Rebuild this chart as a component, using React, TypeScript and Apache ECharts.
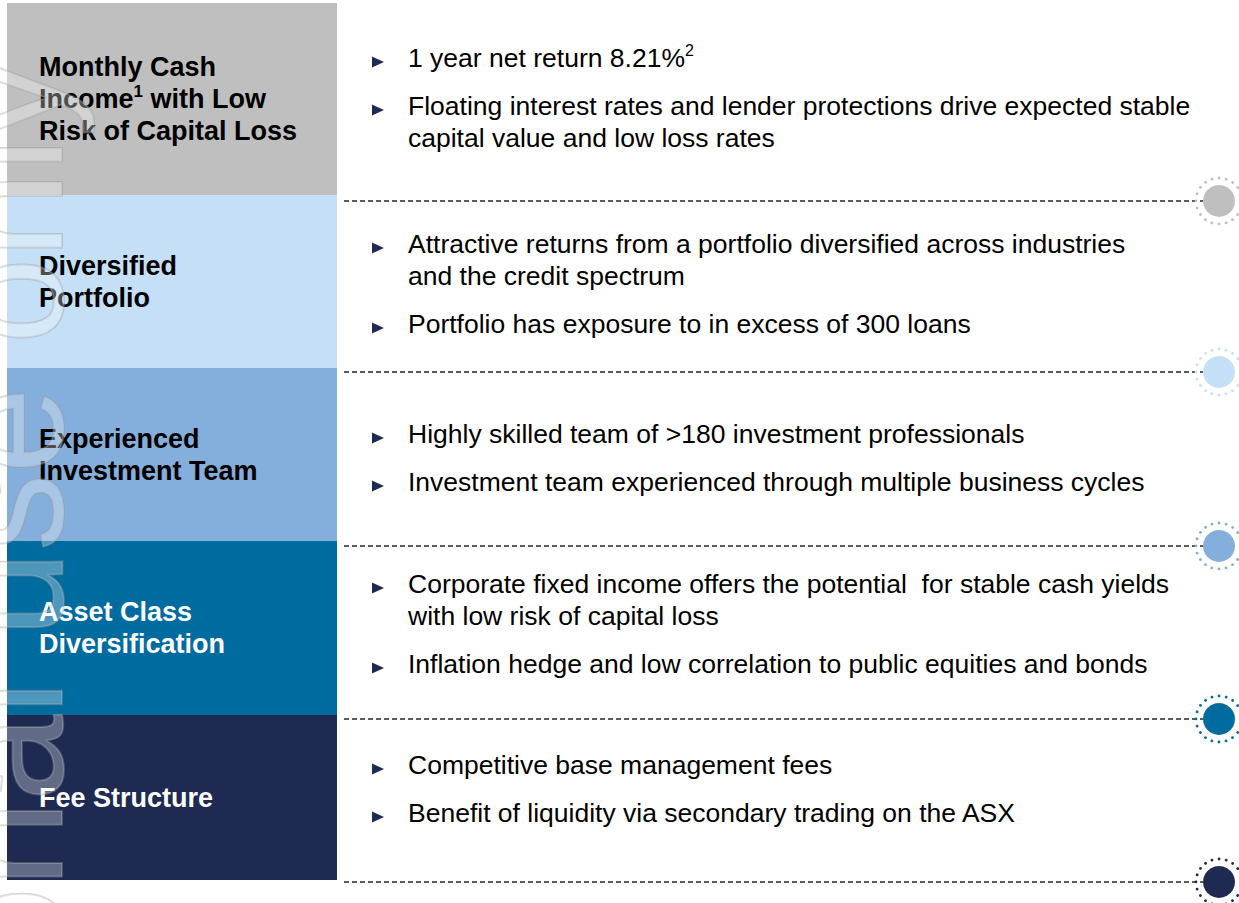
import React, { useEffect, useRef } from 'react';
import * as echarts from 'echarts';

// ---- content ----
const ROW_LABELS = [
  'Monthly Cash\nIncome{sup|1} with Low\nRisk of Capital Loss',
  'Diversified\nPortfolio',
  'Experienced\nInvestment Team',
  'Asset Class\nDiversification',
  'Fee Structure',
];
const ROW_FILLS = ['#BFBFBF', '#C5E0F6', '#84AEDB', '#006B9F', '#1E2A52'];
const LABEL_COLORS = ['#000000', '#000000', '#000000', '#FFFFFF', '#FFFFFF'];
const ROW_BULLETS: string[][][] = [
  [
    ['1 year net return 8.21%{sup|2}'],
    ['Floating interest rates and lender protections drive expected stable', 'capital value and low loss rates'],
  ],
  [
    ['Attractive returns from a portfolio diversified across industries', 'and the credit spectrum'],
    ['Portfolio has exposure to in excess of 300 loans'],
  ],
  [
    ['Highly skilled team of >180 investment professionals'],
    ['Investment team experienced through multiple business cycles'],
  ],
  [
    ['Corporate fixed income offers the potential  for stable cash yields', 'with low risk of capital loss'],
    ['Inflation hedge and low correlation to public equities and bonds'],
  ],
  [
    ['Competitive base management fees'],
    ['Benefit of liquidity via secondary trading on the ASX'],
  ],
];
const WATERMARK = 'For personal use only';

// ---- layout ----
const FONT = "'Liberation Sans', Arial, Helvetica, sans-serif";
const PANEL_X = 7;
const PANEL_W = 330;
const PANEL_TOPS = [3, 195, 368, 541, 715];
const PANEL_BOTTOM = 880;
const DIVIDER_YS = [201, 372, 546, 719, 882];
const FIRST_LINE_YS = [58, 244, 434, 584, 765];
const LABEL_X = 39;
const LABEL_LINE_H = 32;
const BULLET_X = 372;
const TEXT_X = 408;
const LINE_H = 32;
const BULLET_GAP = 48;
const LINE_X1 = 344;
const CIRCLE_X = 1219;
const CIRCLE_R = 16;
const RING_R = 23;

function buildGraphics() {
  const els: any[] = [];
  ROW_FILLS.forEach((fill, i) => {
    const top = PANEL_TOPS[i];
    const bottom = i + 1 < PANEL_TOPS.length ? PANEL_TOPS[i + 1] : PANEL_BOTTOM;
    els.push({
      type: 'rect',
      shape: { x: PANEL_X, y: top, width: PANEL_W, height: bottom - top },
      style: { fill },
      z: 1,
    });
    els.push({
      type: 'text',
      x: LABEL_X,
      y: (top + bottom) / 2,
      z: 5,
      style: {
        text: ROW_LABELS[i],
        fontSize: 27,
        fontWeight: 'bold',
        fontFamily: FONT,
        fill: LABEL_COLORS[i],
        lineHeight: LABEL_LINE_H,
        align: 'left',
        verticalAlign: 'middle',
        rich: {
          sup: { fontSize: 17, fontWeight: 'bold', fontFamily: FONT, fill: LABEL_COLORS[i], lineHeight: 26, verticalAlign: 'top' },
        },
      },
    });
    // bullets
    let y = FIRST_LINE_YS[i];
    ROW_BULLETS[i].forEach((lines, bi) => {
      if (bi > 0) y += BULLET_GAP;
      els.push({
        type: 'polygon',
        z: 5,
        shape: { points: [[BULLET_X, y - 1.5], [BULLET_X + 12, y + 4], [BULLET_X, y + 9.5]] },
        style: { fill: '#1E2A52' },
      });
      lines.forEach((ln, li) => {
        if (li > 0) y += LINE_H;
        els.push({
          type: 'text',
          x: TEXT_X,
          y,
          z: 5,
          style: {
            text: ln,
            fontSize: 26.5,
            fontFamily: FONT,
            fill: '#000000',
            lineHeight: LINE_H,
            align: 'left',
            verticalAlign: 'middle',
            rich: {
              sup: { fontSize: 16, fontFamily: FONT, fill: '#000000', lineHeight: 31, verticalAlign: 'top' },
            },
          },
        });
      });
    });
    // divider + circle
    const dy = DIVIDER_YS[i];
    els.push({
      type: 'line',
      z: 3,
      shape: { x1: LINE_X1, y1: dy, x2: CIRCLE_X - CIRCLE_R, y2: dy },
      style: { stroke: '#262626', lineWidth: 1.3, lineDash: [5, 3] },
    });
    els.push({
      type: 'circle',
      z: 4,
      shape: { cx: CIRCLE_X, cy: dy, r: RING_R },
      style: { fill: 'none', stroke: fill, lineWidth: 2.8, lineDash: [0.01, 7.2], lineCap: 'round' },
    });
    els.push({
      type: 'circle',
      z: 4,
      shape: { cx: CIRCLE_X, cy: dy, r: CIRCLE_R },
      style: { fill },
    });
  });
  // watermark
  els.push({
    type: 'text',
    x: 8,
    y: 60,
    rotation: Math.PI / 2,
    z: 50,
    silent: true,
    style: {
      text: WATERMARK,
      fontSize: 155,
      fontFamily: FONT,
      align: 'right',
      verticalAlign: 'middle',
      fill: 'rgba(255,255,255,0.3)',
      stroke: 'rgba(150,150,150,0.38)',
      lineWidth: 2,
    },
  });
  return els;
}

export default function App() {
  const ref = useRef<HTMLDivElement>(null);
  useEffect(() => {
    if (!ref.current) return;
    const chart = echarts.init(ref.current, null, { renderer: 'svg' });
    chart.setOption({
      animation: false,
      backgroundColor: '#FFFFFF',
      graphic: { elements: buildGraphics() },
    });
    return () => chart.dispose();
  }, []);
  return (
    <div
      ref={ref}
      style={{ position: 'absolute', left: 0, top: 0, width: 1239, height: 903, background: '#fff' }}
    />
  );
}
